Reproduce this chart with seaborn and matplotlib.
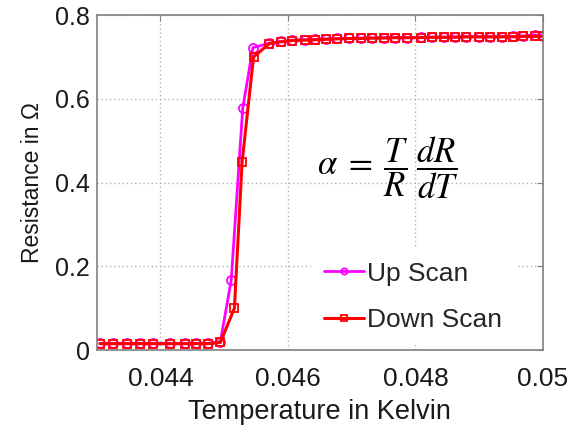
import matplotlib
matplotlib.use("Agg")
import matplotlib.pyplot as plt
import seaborn as sns
import pandas as pd

sns.set_theme(style="white")
plt.rcParams["font.family"] = ["Liberation Sans", "DejaVu Sans"]
plt.rcParams["mathtext.fontset"] = "stix"

# temperature (K) and resistance (ohm)
up_T = [0.04305, 0.04326, 0.04347, 0.04368, 0.04388, 0.04415, 0.04438, 0.04456,
        0.04474, 0.04494, 0.04511, 0.04529, 0.04545, 0.04571, 0.04589, 0.04606,
        0.04626, 0.04643, 0.04660, 0.04677, 0.04695, 0.04714, 0.04732, 0.04750,
        0.04768, 0.04787, 0.04808, 0.04826, 0.04844, 0.04862, 0.04880, 0.04899,
        0.04917, 0.04935, 0.04953, 0.04969, 0.04987, 0.05000]
up_R = [0.016, 0.016, 0.016, 0.016, 0.016, 0.016, 0.016, 0.016,
        0.016, 0.020, 0.167, 0.577, 0.722, 0.733, 0.737, 0.740,
        0.741, 0.742, 0.743, 0.744, 0.744, 0.745, 0.745, 0.746,
        0.746, 0.746, 0.747, 0.747, 0.747, 0.748, 0.748, 0.748,
        0.748, 0.748, 0.749, 0.750, 0.753, 0.750]

down_T = [0.04305, 0.04326, 0.04347, 0.04368, 0.04388, 0.04415, 0.04438, 0.04456,
          0.04474, 0.04494, 0.04516, 0.04528, 0.04546, 0.04571, 0.04589, 0.04606,
          0.04626, 0.04643, 0.04660, 0.04677, 0.04695, 0.04714, 0.04732, 0.04750,
          0.04768, 0.04787, 0.04808, 0.04826, 0.04844, 0.04862, 0.04880, 0.04899,
          0.04917, 0.04935, 0.04953, 0.04969, 0.04987, 0.05000]
down_R = [0.015, 0.015, 0.015, 0.015, 0.015, 0.015, 0.015, 0.015,
          0.015, 0.018, 0.100, 0.448, 0.700, 0.732, 0.736, 0.739,
          0.740, 0.741, 0.742, 0.743, 0.744, 0.744, 0.745, 0.745,
          0.746, 0.746, 0.746, 0.747, 0.747, 0.747, 0.748, 0.748,
          0.748, 0.748, 0.748, 0.749, 0.749, 0.749]

x_ticks = [0.044, 0.046, 0.048, 0.05]
x_labels = ["0.044", "0.046", "0.048", "0.05"]
y_ticks = [0, 0.2, 0.4, 0.6, 0.8]
y_labels = ["0", "0.2", "0.4", "0.6", "0.8"]

up = pd.DataFrame({"T": up_T, "R": up_R})
down = pd.DataFrame({"T": down_T, "R": down_R})

fig = plt.figure(figsize=(5.73, 4.30), dpi=100)
ax = fig.add_axes([0.1688, 0.186, 0.7788, 0.779])

sns.lineplot(data=up, x="T", y="R", ax=ax, color="#ff00ff", lw=2,
             marker="o", markersize=6.5, markerfacecolor="none",
             markeredgecolor="#ff00ff", markeredgewidth=1.3,
             estimator=None, sort=False, label="Up Scan")
sns.lineplot(data=down, x="T", y="R", ax=ax, color="#ff0000", lw=2.2,
             marker="s", markersize=6, markerfacecolor="none",
             markeredgecolor="#ff0000", markeredgewidth=1.3,
             estimator=None, sort=False, label="Down Scan")

ax.set_xlim(0.043, 0.05)
ax.set_ylim(0, 0.8)
ax.set_xticks(x_ticks)
ax.set_xticklabels(x_labels, fontsize=19)
ax.set_yticks(y_ticks)
ax.set_yticklabels(y_labels, fontsize=18)
ax.tick_params(direction="in", length=4, width=0.8,
               top=True, right=True, colors="#808080", labelcolor="#1a1a1a")
ax.tick_params(axis="x", pad=12)
ax.tick_params(axis="y", pad=5)
ax.set_xlabel("Temperature in Kelvin", fontsize=19.5, color="#1a1a1a", labelpad=6)
ax.set_ylabel("Resistance in Ω", fontsize=16.5, color="#1a1a1a", labelpad=8)

ax.grid(True, linestyle=(0, (1, 2)), color="#b0b0b0", lw=1)
for s in ax.spines.values():
    s.set_color("#808080")
    s.set_linewidth(1.2)

ax.text(0.04757, 0.435, r"$\alpha\;=\;\dfrac{T}{R}\;\dfrac{dR}{dT}$", fontsize=25,
        ha="center", va="center", color="black")

leg = ax.legend(loc="lower left", bbox_to_anchor=(0.45, -0.025), fontsize=19,
                frameon=True, facecolor="white", edgecolor="none", framealpha=1,
                handlelength=1.5, handletextpad=0.15, labelspacing=0.85,
                borderpad=0.5, fancybox=False)
for h in leg.legend_handles:
    h.set_markersize(4.5)

fig.savefig("out.png", dpi=100)
